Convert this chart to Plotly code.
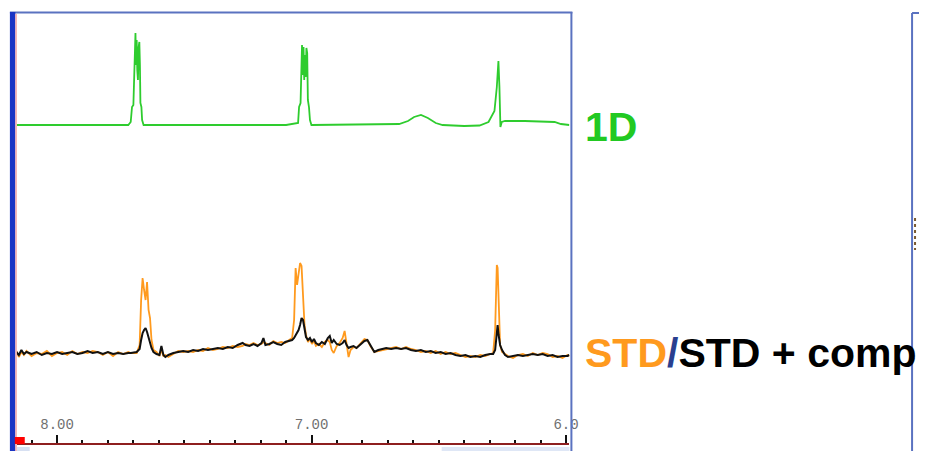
import plotly.graph_objects as go

# ---------------- data (chemical shift in ppm, intensity in arbitrary units) ----------------
ppm_1d = [8.158, 7.80, 7.72, 7.7105, 7.7054, 7.7000, 7.6969, 7.6941, 7.6918, 7.6895, 7.6871,
          7.6848, 7.6821, 7.6794, 7.6766, 7.6743, 7.6724, 7.6685, 7.6657, 7.6599, 7.40, 7.10,
          7.0529, 7.0490, 7.0432, 7.0401, 7.0374, 7.0346, 7.0315, 7.0288, 7.0257, 7.0230,
          7.0202, 7.0171, 7.0144, 7.0101, 7.0062, 7.0004, 6.70, 6.656, 6.621, 6.597, 6.570,
          6.543, 6.512, 6.485, 6.40, 6.34, 6.3047, 6.2813, 6.2720, 6.2657, 6.2618, 6.2579,
          6.2525, 6.2397, 6.162, 6.09, 6.045, 6.02, 5.987]
int_1d = [0, 0, 0, 3, 18, 20, 50, 90, 92, 60, 85,
          55, 45, 78, 83, 60, 22, 18, 5, 0, 0, 0,
          2, 18, 22, 55, 80, 50, 78, 45, 70, 48,
          77, 72, 25, 18, 5, 0, 0.5, 1, 4, 8, 10,
          7, 2, 0, -1, -0.5, 3, 14, 38, 64, 38, -2,
          3, 4, 4, 3.5, 3, 1, 0]

ppm_std = [8.160, 8.150, 8.140, 8.130, 8.120, 8.100, 8.080, 8.060, 8.040, 8.020, 8.000, 7.980,
           7.960, 7.940, 7.920, 7.900, 7.880, 7.860, 7.840, 7.820, 7.800, 7.780, 7.760, 7.740,
           7.720, 7.710, 7.687, 7.6755, 7.6696, 7.6638, 7.6580, 7.6521, 7.6463, 7.6404, 7.6346,
           7.6288, 7.6210, 7.6093, 7.5976, 7.5899, 7.5820, 7.5743, 7.5626, 7.5432, 7.5237,
           7.5042, 7.4848, 7.4653, 7.4459, 7.4264, 7.4070, 7.3875, 7.3681, 7.3486, 7.3292,
           7.3097, 7.2903, 7.2708, 7.2591, 7.2436, 7.2280, 7.2124, 7.1969, 7.1891, 7.1813,
           7.1658, 7.1502, 7.1346, 7.1191, 7.1035, 7.0879, 7.0762, 7.0685, 7.0626, 7.0568,
           7.0510, 7.0451, 7.0393, 7.0335, 7.0276, 7.0218, 7.0140, 7.0062, 6.9984, 6.9906,
           6.9829, 6.9712, 6.9595, 6.9479, 6.9362, 6.9284, 6.9206, 6.9128, 6.9012, 6.8895,
           6.8778, 6.8700, 6.8623, 6.8545, 6.8467, 6.8350, 6.8234, 6.8078, 6.7922, 6.7806,
           6.7689, 6.7533, 6.7377, 6.7222, 6.7066, 6.6871, 6.6677, 6.6482, 6.6288, 6.6093,
           6.5899, 6.5704, 6.5510, 6.5315, 6.5121, 6.4926, 6.4732, 6.4537, 6.4342, 6.4148,
           6.3953, 6.3759, 6.3564, 6.3370, 6.3175, 6.2981, 6.2864, 6.2786, 6.2747, 6.2720,
           6.2689, 6.2650, 6.2591, 6.2514, 6.2397, 6.2280, 6.2085, 6.1891, 6.1696, 6.1502,
           6.1307, 6.1113, 6.0918, 6.0724, 6.0529, 6.0335, 6.0140, 5.9946, 5.9868]
int_std = [9, 3, 8, 5, 9, 4, 7, 6, 9, 4, 7, 8,
           5, 9, 6, 8, 7, 9, 8, 5, 8, 4, 8, 6,
           8, 7, 7, 15, 60, 82, 70, 60, 78, 50, 42,
           20, 10, 8, 4, 10, 4, 5, 3, 6, 9,
           8, 9, 8, 10, 9, 12, 10, 11, 13, 12,
           14, 13, 14, 16, 15, 17, 15, 16, 18, 17,
           15, 19, 17, 18, 17, 20, 22, 40, 92, 75,
           85, 97, 94, 60, 35, 25, 18, 21, 16, 19,
           14, 16, 13, 18, 20, 18, 10, 7, 14, 17,
           22, 29, 15, 3, 10, 13, 12, 17, 21, 20,
           14, 8, 9, 10, 11, 12, 13, 11, 13, 11,
           10, 8, 9, 7, 9, 6, 8, 6, 7, 5,
           3, 4, 3, 5, 4, 6, 7, 30, 70, 95,
           92, 50, 15, 8, 6, 4, 2, 5, 6, 4,
           7, 5, 7, 6, 3, 4, 2, 5, 4]
int_std_comp = [8, 5, 10, 6, 8, 6, 8, 5, 7, 6, 8, 6,
                7, 8, 6, 7, 9, 7, 8, 6, 8, 6, 7, 6,
                7, 7, 8, 11, 20, 27, 30, 32, 28, 22, 18,
                12, 8, 6, 5, 14, 5, 3, 5, 7, 8,
                9, 8, 10, 9, 11, 10, 11, 12, 11, 13,
                12, 15, 17, 15, 14, 16, 14, 17, 22, 15,
                16, 18, 16, 15, 18, 19, 20, 22, 25, 27,
                30, 35, 42, 40, 30, 23, 20, 22, 18, 21,
                17, 15, 18, 16, 22, 24, 17, 20, 16, 15,
                17, 20, 15, 12, 13, 14, 12, 16, 19, 20,
                15, 8, 10, 11, 12, 11, 12, 11, 12, 10,
                9, 10, 8, 9, 7, 8, 6, 7, 5, 4,
                5, 3, 4, 3, 5, 6, 6, 10, 20, 28,
                35, 25, 15, 10, 5, 3, 4, 5, 4, 5,
                6, 5, 6, 4, 5, 3, 4, 4, 5]

tick_vals = [8.0, 7.0, 6.0]
tick_text = ["8.00", "7.00", "6.0"]

# ---------------- layout helpers (pixel -> paper) ----------------
W, H = 928, 451
def px(x):
    return x / W
def py(y):
    return 1 - y / H

AXIS_PIX = 443          # pixel row of the x axis line
PLOT_L, PLOT_R = 17, 575
PPM_AT = lambda x: 8.2241 - x / 257.0

fig = go.Figure()
fig.add_trace(go.Scatter(x=ppm_1d, y=int_1d, mode="lines", yaxis="y2",
                         line=dict(color="#2ecc2e", width=1.8), name="1D"))
fig.add_trace(go.Scatter(x=ppm_std, y=int_std, mode="lines",
                         line=dict(color="#ff9a1e", width=1.8), name="STD"))
fig.add_trace(go.Scatter(x=ppm_std, y=int_std_comp, mode="lines",
                         line=dict(color="#111111", width=2.0), name="STD + comp"))

# baselines: STD baseline at pixel 360, 1D baseline at pixel 125 (1 unit = 1 px)
std_base, d1_base = 360, 125
shapes = [
    dict(type="line", xref="paper", yref="paper", x0=px(10), x1=px(578), y0=py(12.5), y1=py(12.5),
         line=dict(color="#5a72c0", width=2)),
    dict(type="line", xref="paper", yref="paper", x0=px(577), x1=px(577), y0=py(12), y1=0,
         line=dict(color="#5a72c0", width=2)),
    dict(type="rect", xref="paper", yref="paper", x0=px(10), x1=px(15.5), y0=0, y1=py(12),
         fillcolor="#1a34c4", line=dict(width=0)),
    dict(type="rect", xref="paper", yref="paper", x0=px(15.5), x1=px(17), y0=0, y1=py(14),
         fillcolor="#f4a8a8", line=dict(width=0)),
    dict(type="rect", xref="paper", yref="paper", x0=px(15), x1=px(25), y0=py(444), y1=py(437),
         fillcolor="#ff0000", line=dict(width=0)),
    dict(type="rect", xref="paper", yref="paper", x0=px(17), x1=px(30), y0=0, y1=py(447),
         fillcolor="#d7e0f2", line=dict(width=0)),
    dict(type="rect", xref="paper", yref="paper", x0=px(446), x1=px(575), y0=0, y1=py(447),
         fillcolor="#dfe7f6", line=dict(width=0)),
    dict(type="line", xref="paper", yref="paper", x0=px(921), x1=px(921), y0=0, y1=py(13),
         line=dict(color="#5a72c0", width=2)),
    dict(type="line", xref="paper", yref="paper", x0=px(921), x1=1, y0=py(13), y1=py(13),
         line=dict(color="#5a72c0", width=2)),
    dict(type="line", xref="paper", yref="paper", x0=px(924), x1=px(924), y0=py(218), y1=py(250),
         line=dict(color="#7a5a30", width=2, dash="dot")),
]

fig.update_layout(
    width=W, height=H,
    margin=dict(l=0, r=0, t=0, b=0),
    paper_bgcolor="white", plot_bgcolor="white",
    showlegend=False,
    xaxis=dict(
        domain=[px(PLOT_L), px(PLOT_R)],
        range=[PPM_AT(PLOT_L), PPM_AT(PLOT_R)],
        showgrid=False, zeroline=False,
        showline=True, linecolor="#8e1f1f", linewidth=2,
        tickmode="array", tickvals=tick_vals, ticktext=tick_text,
        ticks="inside", ticklen=8, tickwidth=2, tickcolor="#111111",
        ticklabelposition="inside", ticklabeloverflow="allow",
        ticklabelstandoff=3,
        tickfont=dict(family="Liberation Mono", size=14, color="#707070"),
        minor=dict(ticks="inside", ticklen=3, tickwidth=2, tickcolor="#111111",
                   tickmode="linear", tick0=6.0, dtick=0.1, showgrid=False),
    ),
    yaxis=dict(domain=[1 - AXIS_PIX / H, 1], range=[std_base - AXIS_PIX, std_base],
               visible=False, showgrid=False, zeroline=False),
    yaxis2=dict(overlaying="y", range=[d1_base - AXIS_PIX, d1_base],
                visible=False, showgrid=False, zeroline=False),
    shapes=shapes,
    annotations=[
        dict(text="1D", xref="paper", yref="paper", x=px(589), y=py(127),
             xanchor="left", yanchor="middle", showarrow=False,
             font=dict(family="Liberation Sans", size=41, color="#22c922", weight="bold")),
        dict(text="<span style='color:#ff9a1e'>STD</span><span style='color:#2a3f8f'>/</span>"
                  "<span style='color:#000000'>STD + comp</span>",
             xref="paper", yref="paper", x=px(589), y=py(353),
             xanchor="left", yanchor="middle", showarrow=False,
             font=dict(family="Liberation Sans", size=41, color="#000000", weight="bold")),
    ],
)

fig.write_html("out.html")
